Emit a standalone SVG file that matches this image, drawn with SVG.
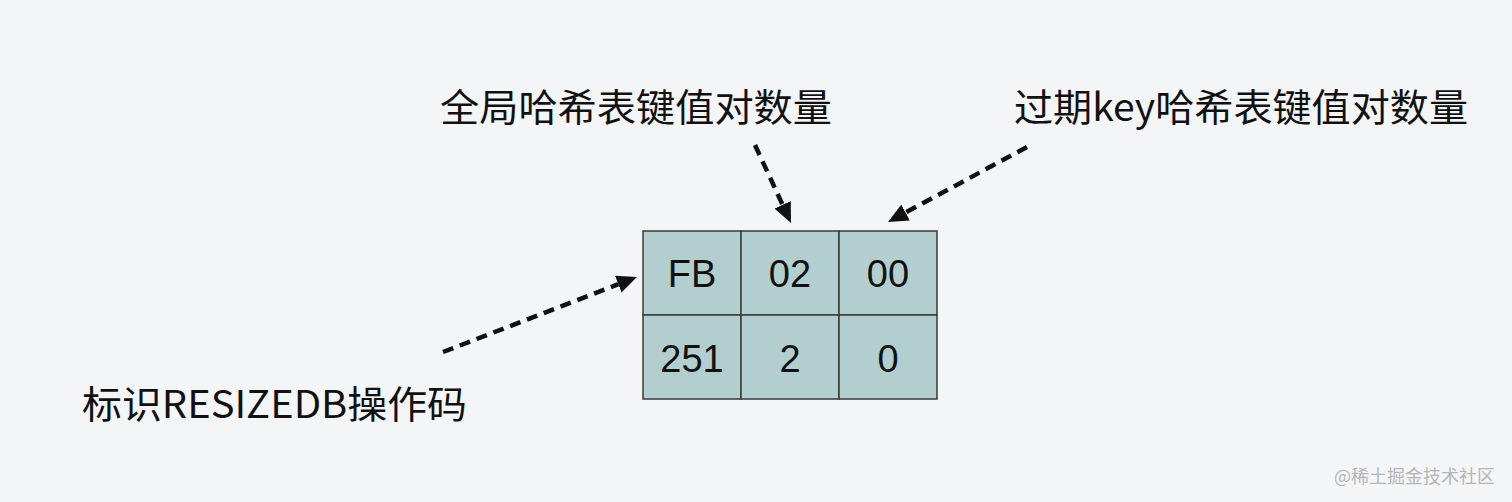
<svg xmlns="http://www.w3.org/2000/svg" width="1512" height="502" viewBox="0 0 1512 502">
<style>
.lbl{font-family:"Noto Sans CJK SC","Liberation Sans",sans-serif;font-size:38px;fill:#111}
.cell{fill:#b2cece;stroke:#3a3a3a;stroke-width:1.5}
.num{font-family:"Liberation Sans",Arial,sans-serif;font-size:38px;fill:#111;text-anchor:middle}
.conn{stroke:#111;stroke-width:4.5;stroke-dasharray:11 7;fill:none}
.wm{font-family:"Noto Sans CJK SC",sans-serif;font-size:18px;fill:#b5b5b5}
</style>
<defs>
<marker id="ah" viewBox="0 0 20 18" refX="0" refY="9" markerWidth="20" markerHeight="18" markerUnits="userSpaceOnUse" orient="auto">
<path d="M0,0 L20,9 L0,18 Z" fill="#111"/>
</marker>
</defs>
<rect width="1512" height="502" fill="#f4f5f7"/>
<g id="table">
<rect class="cell" x="643" y="231" width="98" height="84"/>
<rect class="cell" x="741" y="231" width="98" height="84"/>
<rect class="cell" x="839" y="231" width="98" height="84"/>
<rect class="cell" x="643" y="315" width="98" height="84"/>
<rect class="cell" x="741" y="315" width="98" height="84"/>
<rect class="cell" x="839" y="315" width="98" height="84"/>
<text class="num" x="692" y="287">FB</text>
<text class="num" x="790" y="287">02</text>
<text class="num" x="888" y="287">00</text>
<text class="num" x="692" y="372">251</text>
<text class="num" x="790" y="372">2</text>
<text class="num" x="888" y="372">0</text>
</g>
<g id="label-global"><text class="lbl" x="440" y="121" textLength="392" lengthAdjust="spacingAndGlyphs">全局哈希表键值对数量</text></g>
<g id="label-expire"><text class="lbl" x="1014" y="121" textLength="454" lengthAdjust="spacingAndGlyphs">过期key哈希表键值对数量</text></g>
<g id="label-opcode"><text class="lbl" x="82" y="418" textLength="385" lengthAdjust="spacingAndGlyphs">标识RESIZEDB操作码</text></g>
<g id="connectors">
<line class="conn" x1="755" y1="145" x2="782.6" y2="204.8" marker-end="url(#ah)"/>
<line class="conn" x1="1027" y1="147" x2="905.6" y2="212.5" marker-end="url(#ah)"/>
<line class="conn" x1="443" y1="352" x2="618.3" y2="284.2" marker-end="url(#ah)"/>
</g>
<text class="wm" x="1334" y="483" textLength="161" lengthAdjust="spacingAndGlyphs">@稀土掘金技术社区</text>
</svg>
